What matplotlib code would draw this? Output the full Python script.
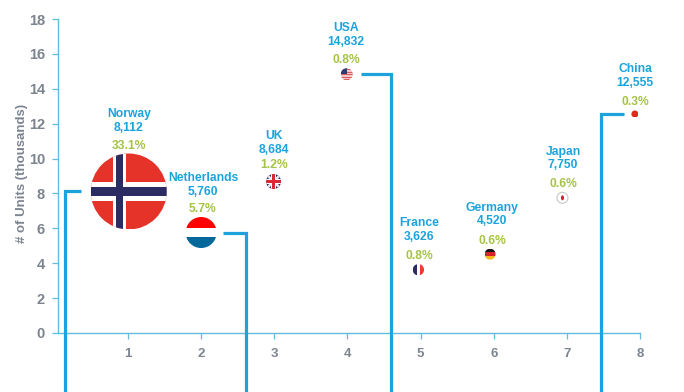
import matplotlib
matplotlib.use("Agg")
import matplotlib.pyplot as plt
from matplotlib.patches import Circle, Rectangle, Polygon, Ellipse
from matplotlib.transforms import Affine2D, ScaledTranslation

plt.rcParams['font.family'] = ['Liberation Sans', 'DejaVu Sans']

countries = ["Norway", "Netherlands", "UK", "USA", "France", "Germany", "Japan", "China"]
bubble_x = [1.01, 2.0, 2.99, 3.99, 4.97, 5.95, 6.94, 7.93]
units = [8.112, 5.760, 8.684, 14.832, 3.626, 4.520, 7.750, 12.555]
unit_labels = ["8,112", "5,760", "8,684", "14,832", "3,626", "4,520", "7,750", "12,555"]
share_labels = ["33.1%", "5.7%", "1.2%", "0.8%", "0.8%", "0.6%", "0.6%", "0.3%"]
radius_px = [38, 15.5, 7.5, 6, 5.7, 5.5, 5.5, 3.5]
x_ticks = [1, 2, 3, 4, 5, 6, 7, 8]
y_ticks = [0, 2, 4, 6, 8, 10, 12, 14, 16, 18]

label_x_px = [129, 203, 274, 346, 419, 492, 563, 635]
name_y_px = [114, 178, 136, 28, 223, 208, 152, 69]
value_y_px = [128, 192, 150, 42, 237, 221, 165, 83]
share_y_px = [146, 209, 165, 60, 256, 241, 184, 102]

step_bottom = -3.6
bracket_1_x = [0.14, 0.14, 0.36]
bracket_1_y = [step_bottom, 8.112, 8.112]
bracket_2_x = [2.30, 2.62, 2.62]
bracket_2_y = [5.76, 5.76, step_bottom]
bracket_3_x = [4.18, 4.59, 4.59]
bracket_3_y = [14.832, 14.832, step_bottom]
bracket_4_x = [7.46, 7.46, 7.78]
bracket_4_y = [step_bottom, 12.555, 12.555]

BLUE = "#1CA3DC"
GREEN = "#A5C345"
GRAY = "#7C8490"
AXIS = "#62BCDF"
NAVY = "#2A2C62"
RED = "#E5332A"

W, H = 684, 392
fig = plt.figure(figsize=(W / 100, H / 100), dpi=100)
ax = fig.add_axes([57.5 / W, 1 - 333 / H, (640 - 57.5) / W, (333 - 19) / H])
ax.set_xlim(0.036, 8)
ax.set_ylim(0, 18)
for s in ("top", "right"):
    ax.spines[s].set_visible(False)
for s in ("left", "bottom"):
    ax.spines[s].set_color(AXIS)
    ax.spines[s].set_linewidth(1.0)
ax.set_xticks(x_ticks)
ax.set_yticks(y_ticks)
ax.tick_params(axis="both", color=AXIS, length=4, width=0.9, labelcolor=GRAY, labelsize=9.5, pad=7)
ax.tick_params(axis="y", labelsize=10.5, pad=5)
for t in ax.get_yticklabels() + ax.get_xticklabels():
    t.set_fontweight("bold")
fig.text(22.5 / W, 1 - 173 / H, "# of Units (thousands)", rotation=90, color=GRAY, fontsize=9.5,
         fontweight="bold", ha="center", va="center")

for bx, by in [(bracket_1_x, bracket_1_y), (bracket_2_x, bracket_2_y),
               (bracket_3_x, bracket_3_y), (bracket_4_x, bracket_4_y)]:
    ax.plot(bx, by, color=BLUE, lw=2.3, clip_on=False, solid_joinstyle="miter",
            solid_capstyle="butt", zorder=3)


def flag(i):
    tr = Affine2D().scale(radius_px[i]) + ScaledTranslation(bubble_x[i], units[i], ax.transData)
    clip = Circle((0, 0), 1, transform=tr, fc="white", ec="none", zorder=4, clip_on=False)
    ax.add_patch(clip)

    def rect(x0, y0, w, h, c, z=5):
        p = Rectangle((x0, y0), w, h, fc=c, ec="none", transform=tr, zorder=z)
        ax.add_patch(p)
        p.set_clip_path(clip)

    name = countries[i]
    if name == "Norway":
        rect(-1, -1, 2, 2, RED)
        rect(-0.42, -1, 0.34, 2, "white", 6)
        rect(-1, -0.25, 2, 0.5, "white", 6)
        rect(-0.33, -1, 0.17, 2, NAVY, 7)
        rect(-1, -0.13, 2, 0.26, NAVY, 7)
    elif name == "Netherlands":
        rect(-1, 0.3, 2, 0.7, "#FE0000")
        rect(-1, -1, 2, 0.72, "#00689B")
    elif name == "UK":
        rect(-1, -1, 2, 2, NAVY)
        for a, b in [(1, 1), (1, -1)]:
            p = Polygon([(-a, -b - 0.25), (-a, -b + 0.25), (a, b + 0.25), (a, b - 0.25)],
                        fc="#E8E4EA", ec="none", transform=tr, zorder=5)
            ax.add_patch(p)
            p.set_clip_path(clip)
        rect(-1, -0.3, 2, 0.6, "white", 6)
        rect(-0.3, -1, 0.6, 2, "white", 6)
        rect(-1, -0.15, 2, 0.3, "#D62B35", 7)
        rect(-0.15, -1, 0.3, 2, "#D62B35", 7)
    elif name == "USA":
        rect(-1, -1, 2, 2, "#F2C6C6")
        for k in range(5):
            rect(-1, -1 + k * 0.42, 2, 0.2, "#D95C5F", 6)
        rect(-1, 0, 1.0, 1, "#2F3A72", 7)
    elif name == "France":
        rect(-1, -1, 0.72, 2, NAVY)
        rect(0.28, -1, 0.72, 2, "#EE3B33")
    elif name == "Germany":
        rect(-1, 0.33, 2, 0.67, "#151515")
        rect(-1, -0.33, 2, 0.66, "#D8232A")
        rect(-1, -1, 2, 0.67, "#F5B81C")
    elif name == "Japan":
        clip.set_edgecolor("#C8C8C8")
        clip.set_linewidth(0.8)
        dot = Ellipse((0, 0), 0.55, 0.9, fc="#C8202F", ec="none", transform=tr, zorder=5)
        ax.add_patch(dot)
    elif name == "China":
        rect(-1, -1, 2, 2, "#E2291C")


for i in range(len(countries)):
    flag(i)
    fx = label_x_px[i] / W
    fig.text(fx, 1 - name_y_px[i] / H, countries[i], color=BLUE, fontsize=8.7, fontweight="bold",
             ha="center", va="center")
    fig.text(fx, 1 - value_y_px[i] / H, unit_labels[i], color=BLUE, fontsize=8.7, fontweight="bold",
             ha="center", va="center")
    fig.text(fx, 1 - share_y_px[i] / H, share_labels[i], color=GREEN, fontsize=8.7, fontweight="bold",
             ha="center", va="center")

fig.savefig("out.png", dpi=100)
